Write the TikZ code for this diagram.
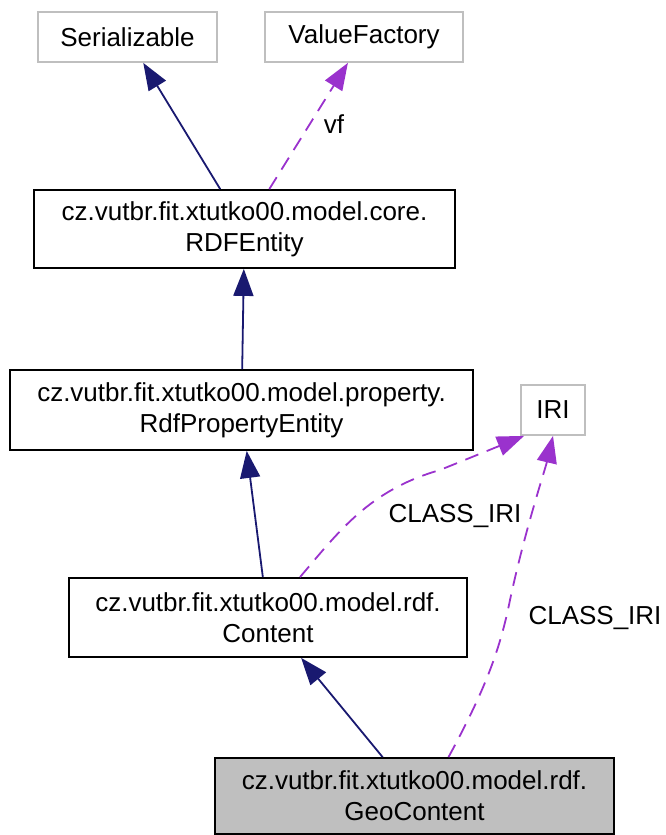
\documentclass[tikz,border=0pt]{standalone}
\usepackage{fontspec}
\setmainfont{Liberation Sans}
\usetikzlibrary{arrows.meta}
\definecolor{edgeblue}{HTML}{191970}
\definecolor{deppurple}{HTML}{9A32CD}
\definecolor{boxgray}{HTML}{BFBFBF}

\begin{document}
\begin{tikzpicture}[x=1pt,y=-1pt,
    every node/.style={font=\fontsize{26}{31}\selectfont},
    cls/.style={draw=black,line width=1.8pt,inner sep=0pt,align=center},
    ext/.style={draw=boxgray,line width=1.8pt,inner sep=0pt},
    inh/.style={draw=edgeblue,line width=1.8pt,-{Triangle[length=27pt,width=20pt]}},
    dep/.style={draw=deppurple,line width=1.8pt,dash pattern=on 14pt off 9pt,-{Triangle[length=27pt,width=20pt]}}]
                      \useasboundingbox (0,0) rectangle (666,835);
                      % classes
                      \node[ext,minimum width=179,minimum height=50] (serializable) at (127.5,37) {Serializable};
                      \node[ext,minimum width=198,minimum height=50] (valuefactory) at (364,37) {ValueFactory};
                      \node[cls,minimum width=421,minimum height=78] (rdfentity) at (244.5,229) {cz.vutbr.fit.xtutko00.model.core.\\RDFEntity};
                      \node[cls,minimum width=463,minimum height=80] (propentity) at (241.5,410) {cz.vutbr.fit.xtutko00.model.property.\\RdfPropertyEntity};
                      \node[ext,minimum width=64,minimum height=50] (iri) at (553,410) {IRI};
                      \node[cls,minimum width=398,minimum height=79] (content) at (268,617.5) {cz.vutbr.fit.xtutko00.model.rdf.\\Content};
                      \node[cls,fill=boxgray,minimum width=399,minimum height=76] (geocontent) at (414.5,796) {cz.vutbr.fit.xtutko00.model.rdf.\\GeoContent};
                      % inheritance
                      \draw[inh] (rdfentity) -- (serializable);
                      \draw[inh] (propentity) -- (rdfentity);
                      \draw[inh] (content) -- (propentity);
                      \draw[inh] (geocontent) -- (content);
                      % usage
                      \draw[dep] (rdfentity) -- (valuefactory);
                      \draw[dep] ([xshift=32pt]content.north) .. controls (340,530) and (370,490) .. (440,470) -- ([xshift=4pt]iri.south west);
                      \draw[dep] ([xshift=34pt]geocontent.north) .. controls (485,690) and (500,650) .. (510,600) .. controls (525,530) and (545,470) .. (iri.south);
                      \node[anchor=base] (vf) at (334,133) {vf};
                      \node[anchor=base] (classiri) at (455,522) {CLASS\_IRI};
                      \node[anchor=base] (classirigeo) at (595,624) {CLASS\_IRI};
                  \end{tikzpicture}
\end{document}
